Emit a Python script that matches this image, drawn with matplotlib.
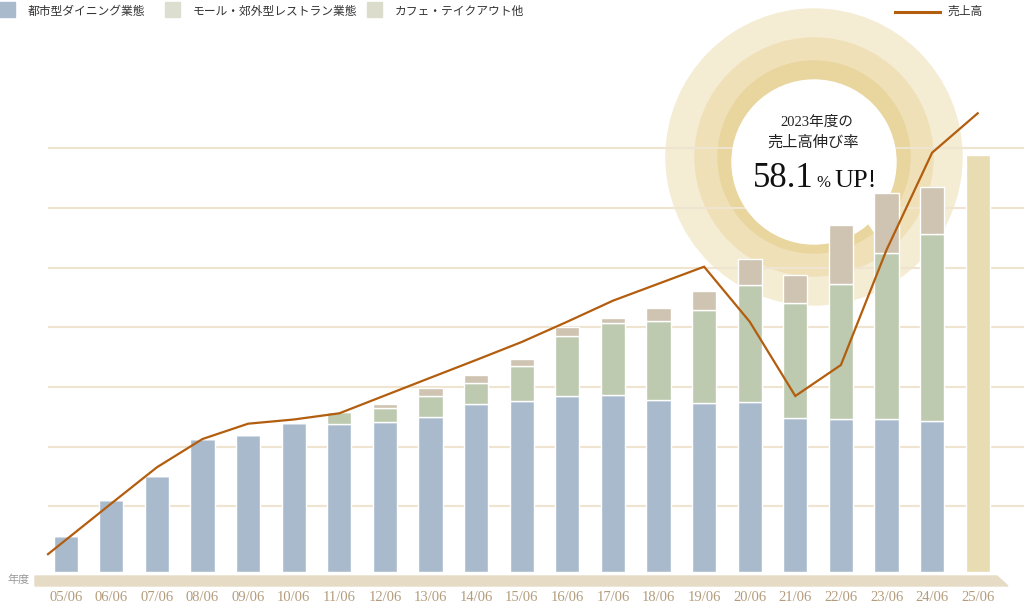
import matplotlib
matplotlib.use("Agg")
import matplotlib.pyplot as plt
import matplotlib.patches as mpatches
import matplotlib.transforms as mtransforms
import numpy as np

# --- data (scaled sales units) ---
years = ["05/06", "06/06", "07/06", "08/06", "09/06", "10/06", "11/06", "12/06",
         "13/06", "14/06", "15/06", "16/06", "17/06", "18/06", "19/06", "20/06",
         "21/06", "22/06", "23/06", "24/06", "25/06"]
urban_dining = [35.6, 72, 96, 133, 137, 149, 148, 150, 155, 167.7, 170.7, 175.7,
                176.7, 172.3, 169, 170, 154, 152.7, 152.7, 151.3]
mall_restaurant = [0, 0, 0, 0, 0, 0, 11.7, 14, 21.3, 21.7, 35, 60, 72.3, 78.7,
                   93, 117, 114.7, 135.3, 166.7, 186.3]
cafe_takeout = [0, 0, 0, 0, 0, 0, 0, 4, 7.4, 7.3, 7.3, 9, 5, 12.7, 19, 26.3,
                28.3, 58.7, 59.3, 47.7]
plan_total = 417.3  # 25/06 (plan)
sales = [32, 68.5, 104.7, 133, 148.3, 152.5, 158.7, 176.5, 194.3, 212, 230, 250.3,
         271.3, 288.3, 305.3, 250.3, 176, 207, 322, 419.3, 458.7]
grid_levels = [65.7, 125.4, 185.1, 244.8, 304.5, 364.2, 423.9]

legend_labels = ["都市型ダイニング業態", "モール・郊外型レストラン業態", "カフェ・テイクアウト他"]

# --- style ---
C_BLUE = "#a9bacd"
C_GREEN = "#bdcab0"
C_TAN = "#cfc3b1"
C_PLAN = "#e8dcb3"
C_LINE = "#b35d0e"
C_GRID = "#efe4cf"
C_BAND = "#e6dbc5"
C_TICK = "#b39c7b"
JP = ["Noto Sans CJK JP", "DejaVu Sans"]
SERIF = ["Liberation Serif", "Noto Sans CJK JP"]

W, H = 1024, 604
fig = plt.figure(figsize=(W / 100, H / 100), dpi=100)
# pixel coordinates, origin top-left
px = mtransforms.Affine2D().scale(1 / 100, -1 / 100).translate(0, H / 100) + fig.dpi_scale_trans

# chart area: bar centres at 65.7 + 45.6*i px, baseline at y=572 px
x0_px, step_px, base_px = 65.7, 45.6, 572
ax = fig.add_axes([48 / W, (H - base_px) / H, (W - 48) / W, base_px / H])
xlo = (48 - x0_px) / step_px
xhi = (W - x0_px) / step_px
ax.set_xlim(xlo, xhi)
ax.set_ylim(0, base_px)
for s in ax.spines.values():
    s.set_visible(False)

ax.set_yticks(grid_levels)
ax.yaxis.grid(True, color=C_GRID, lw=1.5, zorder=0.5)
ax.set_axisbelow(True)
ax.tick_params(axis="y", left=False, labelleft=False)
ax.set_xticks(range(len(years)), years)
ax.tick_params(axis="x", length=0, pad=13.5, labelsize=10.5, labelcolor=C_TICK)
for t in ax.get_xticklabels():
    t.set_fontfamily(SERIF)

# badge rings behind the grid
cx, cy = 814, 157
for r, col in [(148, "#f5ecd4"), (119, "#efe0b8"), (96, "#e9d59e")]:
    ax.add_patch(mpatches.Circle((cx, cy), r, transform=px, color=col, zorder=0.1, clip_on=False))
ax.add_patch(mpatches.Circle((cx, cy + 5), 82, transform=px, color="white", zorder=0.8, clip_on=False))
ax.add_patch(mpatches.Polygon([(858, 208), (878, 186), (877, 236)], closed=True, transform=px,
                              color="white", zorder=0.8, clip_on=False))

# bars
xs = np.arange(len(urban_dining))
bw = 0.53
blue = np.array(urban_dining)
green = np.array(mall_restaurant)
tan = np.array(cafe_takeout)
ax.bar(xs, blue, bw, color=C_BLUE, edgecolor="white", lw=1, zorder=2)
ax.bar(xs, green, bw, bottom=blue, color=C_GREEN, edgecolor="white", lw=1, zorder=2)
ax.bar(xs, tan, bw, bottom=blue + green, color=C_TAN, edgecolor="white", lw=1, zorder=2)
ax.bar(len(years) - 1, plan_total, bw, color=C_PLAN, edgecolor="white", lw=1, zorder=2)

# sales line, first segment carried back to the left edge of the grid
lx = np.arange(len(sales), dtype=float)
ly = np.array(sales, dtype=float)
start_y = ly[0] + (ly[1] - ly[0]) * xlo
lx = np.concatenate([[xlo], lx])
ly = np.concatenate([[start_y], ly])
ax.plot(lx, ly, color=C_LINE, lw=1.6, zorder=3, clip_on=False, solid_joinstyle="miter")

# baseline band
ax.add_patch(mpatches.Polygon([(35, 576), (997, 576), (1008, 586), (35, 586)], closed=True,
                              transform=px, color=C_BAND, zorder=1, clip_on=False))
fig.text(19, 580, "年度", transform=px, ha="center", va="center", fontsize=8,
         color="#9a9a9a", family=JP)

# legend
for (lx0, col), lab in zip([(0, C_BLUE), (165, "#dcdfd0"), (367, "#dcdccc")], legend_labels):
    fig.patches.append(mpatches.Rectangle((lx0, 17), 15, -15, transform=px, color=col))
    fig.text(lx0 + 28, 11, lab, transform=px, ha="left", va="center", fontsize=8.5,
             color="#333333", family=JP)
fig.lines.append(plt.Line2D([895, 940], [12, 12], transform=px, color=C_LINE, lw=2.2))
fig.text(947, 11, "売上高", transform=px, ha="left", va="center", fontsize=8.5,
         color="#333333", family=JP)

# badge text
fig.text(817, 122, "2023年度の", transform=px, ha="center", va="center", fontsize=10.5,
         color="#222222", family=SERIF, zorder=5)
fig.text(813, 142, "売上高伸び率", transform=px, ha="center", va="center", fontsize=11,
         color="#222222", family=JP, zorder=5)
fig.text(814, 187, "58.1", transform=px, ha="right", va="baseline", fontsize=25,
         color="#111111", family=SERIF, zorder=5)
fig.text(816, 187, "%", transform=px, ha="left", va="baseline", fontsize=12,
         color="#111111", family=SERIF, zorder=5)
fig.text(834, 187, "UP!", transform=px, ha="left", va="baseline", fontsize=19,
         color="#111111", family=SERIF, zorder=5)

fig.savefig("out.png", dpi=100)
